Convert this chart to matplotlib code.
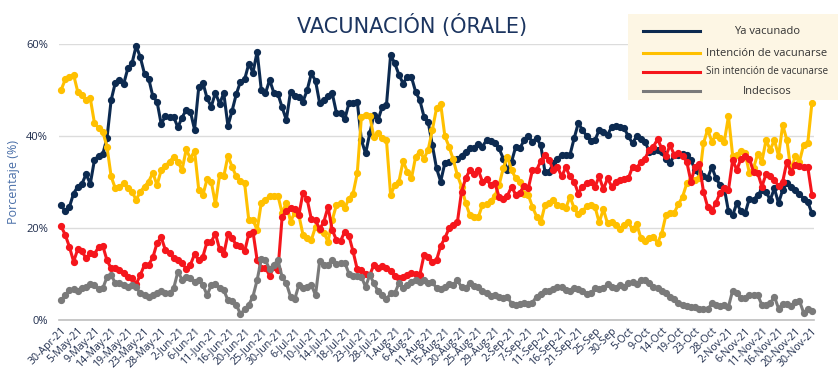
import matplotlib
matplotlib.use("Agg")
import matplotlib.pyplot as plt
from matplotlib.lines import Line2D
from matplotlib.patches import Rectangle
import numpy as np

tick_labels = ["30-Apr-21", "5-May-21", "9-May-21", "14-May-21", "19-May-21", "23-May-21",
               "28-May-21", "2-Jun-21", "6-Jun-21", "11-Jun-21", "16-Jun-21", "20-Jun-21",
               "25-Jun-21", "30-Jun-21", "6-Jul-21", "10-Jul-21", "14-Jul-21", "18-Jul-21",
               "23-Jul-21", "28-Jul-21", "1-Aug-21", "6-Aug-21", "11-Aug-21", "15-Aug-21",
               "20-Aug-21", "25-Aug-21", "29-Aug-21", "2-Sep-21", "7-Sep-21", "11-Sep-21",
               "16-Sep-21", "21-Sep-21", "25-Sep", "30-Sep", "5-Oct", "9-Oct", "14-Oct",
               "19-Oct", "23-Oct", "28-Oct", "2-Nov-21", "6-Nov-21", "11-Nov-21",
               "16-Nov-21", "20-Nov-21", "30-Nov-21"]

ya_vacunado = [
    25.0, 23.6, 24.6, 27.5, 29.0, 29.6, 31.7, 29.6, 34.8, 35.7,
    36.1, 39.5, 47.8, 51.6, 52.2, 51.3, 54.7, 55.8, 59.6, 57.1,
    53.5, 52.5, 48.6, 47.5, 42.6, 44.3, 44.1, 44.1, 41.9, 44.0,
    45.7, 45.3, 41.4, 50.6, 51.6, 48.2, 46.4, 49.4, 47.0, 49.3,
    42.2, 45.5, 49.1, 51.8, 52.3, 55.7, 53.8, 58.3, 50.0, 49.3,
    52.2, 49.4, 49.1, 46.2, 43.5, 49.6, 48.6, 48.4, 47.5, 50.0,
    53.6, 52.0, 47.1, 47.8, 48.6, 49.3, 45.1, 44.9, 43.6, 47.1,
    47.2, 47.5, 39.1, 36.2, 40.6, 44.6, 43.5, 46.4, 46.7, 57.6,
    55.8, 53.3, 51.4, 52.9, 52.8, 49.6, 47.8, 44.2, 43.1, 38.0,
    33.0, 30.1, 34.1, 34.4, 34.8, 35.1, 35.7, 36.6, 37.3, 37.5,
    38.3, 37.7, 39.1, 39.0, 38.4, 37.3, 35.1, 32.6, 34.4, 37.7,
    37.3, 39.1, 39.9, 38.8, 39.5, 38.0, 32.2, 32.2, 34.1, 35.0,
    35.9, 35.9, 35.9, 39.5, 42.8, 41.3, 40.0, 39.0, 39.1, 41.3,
    40.9, 40.2, 42.0, 42.2, 41.9, 41.7, 39.9, 38.4, 40.0, 39.3,
    38.8, 36.6, 36.8, 37.0, 36.6, 34.9, 34.1, 35.9, 35.9, 36.1,
    35.9, 34.8, 32.6, 32.2, 31.2, 30.8, 33.3, 30.8, 29.3, 28.6,
    23.6, 22.8, 25.4, 23.6, 23.2, 26.4, 26.1, 27.2, 28.3, 27.9,
    26.1, 28.6, 25.4, 28.3, 29.7, 29.0, 28.3, 27.5, 26.4, 25.7,
    23.2]

intencion = [
    50.0, 52.3, 52.9, 53.3, 49.6, 48.9, 47.8, 48.2, 42.8, 41.7,
    40.9, 37.7, 31.2, 28.6, 29.0, 29.7, 28.6, 27.9, 26.1, 27.9,
    29.0, 30.1, 32.0, 29.3, 32.6, 33.5, 34.4, 35.5, 34.4, 32.6,
    37.1, 35.1, 36.8, 28.3, 27.2, 30.6, 30.1, 25.2, 31.5, 31.2,
    35.7, 33.3, 31.2, 30.3, 29.7, 21.7, 21.7, 19.6, 25.5, 26.1,
    27.0, 27.0, 27.0, 23.2, 25.5, 21.4, 23.3, 22.8, 18.5, 17.8,
    17.4, 20.3, 19.6, 19.0, 17.0, 21.7, 25.0, 25.4, 24.3, 26.4,
    27.5, 31.9, 44.2, 44.6, 44.3, 39.7, 40.6, 39.5, 39.1, 27.2,
    29.3, 30.1, 34.6, 32.2, 30.8, 35.5, 36.6, 35.1, 37.0, 41.3,
    46.0, 47.0, 40.0, 37.7, 34.9, 31.5, 29.0, 25.4, 22.8, 22.5,
    22.3, 25.0, 25.2, 25.9, 27.0, 29.3, 33.0, 35.5, 32.6, 30.8,
    30.1, 27.5, 27.2, 24.6, 22.5, 21.2, 25.0, 25.5, 26.1, 25.0,
    24.8, 24.3, 26.8, 24.3, 23.0, 23.6, 24.8, 25.0, 24.6, 21.2,
    24.1, 21.0, 21.2, 20.7, 19.7, 20.7, 21.2, 19.7, 20.9, 17.8,
    17.2, 17.8, 18.0, 16.8, 18.8, 22.8, 23.2, 23.3, 25.2, 26.8,
    29.7, 30.4, 30.4, 30.8, 38.4, 41.4, 38.8, 40.2, 39.5, 38.8,
    44.3, 35.7, 35.9, 36.8, 36.2, 32.0, 33.0, 36.1, 34.4, 39.1,
    37.0, 39.1, 35.7, 42.4, 39.1, 32.2, 35.7, 34.4, 38.0, 38.4,
    47.2]

sin_intencion = [
    20.4, 18.5, 15.9, 12.7, 15.4, 14.9, 13.4, 14.5, 14.3, 15.9,
    16.1, 13.0, 11.2, 11.4, 10.9, 10.3, 9.4, 9.1, 7.8, 9.8,
    12.0, 12.0, 13.6, 16.7, 18.0, 15.2, 14.6, 13.4, 13.0, 12.5,
    11.0, 12.0, 14.3, 13.0, 13.8, 17.0, 17.0, 18.8, 15.4, 14.3,
    18.7, 17.8, 16.3, 16.1, 14.9, 18.7, 19.2, 13.0, 11.4, 11.4,
    9.6, 11.6, 10.9, 22.5, 23.6, 24.3, 24.1, 22.8, 27.7, 26.2,
    21.9, 21.7, 19.7, 21.4, 24.6, 19.6, 17.4, 17.2, 19.2, 18.3,
    14.9, 11.0, 10.9, 10.1, 9.8, 12.0, 11.4, 11.7, 11.2, 10.7,
    9.6, 9.1, 9.4, 9.8, 10.3, 10.1, 9.8, 14.1, 13.8, 12.7,
    13.0, 16.1, 17.8, 19.9, 20.7, 21.2, 27.9, 30.8, 32.6, 31.7,
    32.6, 30.1, 30.6, 29.3, 29.7, 26.8, 26.4, 27.0, 29.0, 27.2,
    27.7, 29.1, 28.6, 32.6, 32.6, 34.6, 35.9, 34.8, 32.6, 33.3,
    31.2, 33.2, 31.2, 30.1, 27.5, 29.0, 29.7, 30.1, 29.0, 31.2,
    28.4, 30.8, 29.0, 30.1, 30.4, 30.6, 30.8, 33.3, 33.0, 34.4,
    35.1, 37.0, 37.7, 39.3, 37.3, 35.7, 38.0, 35.9, 36.2, 35.7,
    34.4, 30.1, 33.3, 33.9, 27.9, 24.6, 23.6, 25.5, 27.7, 28.8,
    28.3, 34.8, 32.6, 35.1, 35.7, 35.1, 32.2, 32.0, 29.0, 31.7,
    31.3, 30.4, 29.1, 30.1, 34.4, 32.2, 33.7, 33.5, 33.3, 33.3,
    27.2]

indecisos = [
    4.3, 5.4, 6.5, 6.7, 6.4, 6.9, 7.1, 7.8, 7.6, 6.7,
    6.9, 9.3, 9.8, 8.0, 8.0, 7.6, 7.2, 7.6, 7.1, 5.8,
    5.4, 5.1, 5.4, 5.8, 6.2, 5.9, 5.8, 6.9, 10.5, 8.8,
    9.3, 9.1, 8.3, 8.6, 7.6, 5.4, 7.6, 7.8, 6.9, 6.5,
    4.3, 4.2, 3.3, 1.3, 2.3, 3.3, 5.1, 8.7, 13.2, 13.0,
    11.0, 12.0, 13.0, 9.3, 8.0, 5.1, 4.5, 7.6, 6.9, 7.1,
    7.6, 5.4, 12.9, 12.0, 12.0, 13.0, 12.2, 12.3, 12.5, 10.1,
    9.5, 9.5, 9.4, 7.2, 9.8, 8.0, 6.2, 5.4, 4.5, 5.8,
    5.8, 8.0, 6.9, 7.6, 8.3, 8.8, 8.3, 8.6, 8.0, 8.3,
    6.9, 6.7, 7.1, 7.8, 7.6, 8.7, 7.1, 6.9, 8.1, 7.4,
    7.1, 6.4, 5.8, 5.2, 5.4, 5.1, 4.7, 5.1, 3.5, 3.3,
    3.5, 3.6, 3.5, 3.8, 5.1, 5.7, 6.2, 6.4, 6.7, 7.2,
    7.2, 6.5, 6.2, 6.9, 6.7, 6.4, 5.7, 5.8, 6.9, 6.7,
    6.9, 7.8, 7.2, 6.9, 7.6, 7.2, 8.0, 8.3, 7.8, 8.8,
    8.6, 8.0, 7.2, 6.9, 6.2, 5.8, 4.9, 4.5, 3.6, 3.3,
    3.0, 2.9, 2.9, 2.5, 2.3, 2.3, 3.6, 3.3, 3.0, 3.3,
    2.9, 6.4, 5.8, 4.7, 4.7, 5.4, 5.4, 5.4, 3.3, 3.3,
    3.6, 5.1, 2.5, 3.5, 3.5, 3.0, 4.0, 4.2, 1.6, 2.3,
    2.0]

series_names = ["Ya vacunado", "Intención de vacunarse", "Sin intención de vacunarse", "Indecisos"]
colors = ["#0c2a50", "#ffc000", "#f5161c", "#7a7a7a"]

plt.rcParams['font.family'] = ['Open Sans', 'DejaVu Sans']

fig = plt.figure(figsize=(8.4, 3.78), dpi=100)
ax = fig.add_axes([59/840, 1 - 320/378, (814 - 59)/840, (320 - 44)/378])

n = len(ya_vacunado)
x = np.arange(n)
for vals, c in zip([ya_vacunado, intencion, sin_intencion, indecisos], colors):
    ax.plot(x, vals, color=c, lw=2.2, marker='o', ms=4.2, clip_on=False, zorder=3)

ax.set_xlim(-0.5, n - 0.5)
ax.set_ylim(0, 60)
ax.set_yticks([0, 20, 40, 60])
ax.set_yticklabels(["0%", "20%", "40%", "60%"], fontsize=8, color="#1f2d4d")
ax.yaxis.grid(True, color="#dcdcdc", lw=1)
ax.set_axisbelow(True)
ax.tick_params(axis='y', length=0, pad=8)

tick_pos = np.arange(0, n, 4)[:len(tick_labels)]
ax.set_xticks(tick_pos)
ax.set_xticklabels(tick_labels, rotation=45, ha='right', rotation_mode='anchor',
                   fontsize=7.6, color="#1f2d4d")
ax.tick_params(axis='x', length=0, pad=4)

for s in ['top', 'right', 'left']:
    ax.spines[s].set_visible(False)
ax.spines['bottom'].set_color("#bfbfbf")
ax.spines['bottom'].set_linewidth(1.2)

ax.set_ylabel("Porcentaje (%)", fontsize=9, color="#4a6fa8", labelpad=4)

fig.text(412/840, 1 - 25/378, "VACUNACIÓN (ÓRALE)", ha='center', va='center',
         fontsize=15, color="#1c3560", family=['DejaVu Sans'])

# legend box
lx0, ly0, lx1, ly1 = 628, 14, 838, 100
fig.patches.append(Rectangle((lx0/840, 1 - ly1/378), (lx1 - lx0)/840, (ly1 - ly0)/378,
                             transform=fig.transFigure, facecolor="#fdf6e4",
                             edgecolor='none', zorder=5))
rows_y = [31, 53, 72, 91]
fsz = [8, 8, 7, 8]
for yy, name, c, f in zip(rows_y, series_names, colors, fsz):
    fig.lines.append(Line2D([643/840, 700/840], [1 - yy/378, 1 - yy/378],
                            transform=fig.transFigure, color=c, lw=2.2, zorder=6))
    fig.text(767/840, 1 - yy/378, name, ha='center', va='center', fontsize=f,
             color="#333333", zorder=7)

fig.savefig("out.png", dpi=100)
